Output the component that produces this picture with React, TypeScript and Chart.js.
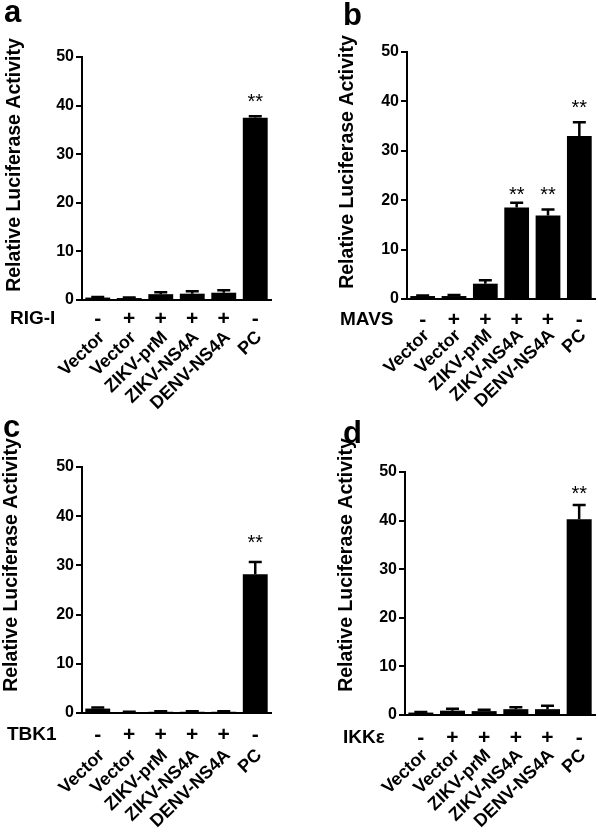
import React, { useEffect, useRef } from 'react';
import { Chart, registerables } from 'chart.js';

Chart.register(...registerables);

const FONT = '"Liberation Sans", Arial, Helvetica, sans-serif';

// ---------- data ----------
const CATEGORIES = ['Vector', 'Vector', 'ZIKV-prM', 'ZIKV-NS4A', 'DENV-NS4A', 'PC'];
const SIGNS = ['-', '+', '+', '+', '+', '-'];
const Y_MIN = 0;
const Y_MAX = 50;
const Y_STEP = 10;
const Y_TITLE = 'Relative Luciferase Activity';
const STAR_LABEL = '**';

const RIGI_MEAN = [0.5, 0.4, 1.2, 1.3, 1.5, 37.5];
const RIGI_SEM = [0.1, 0.1, 0.4, 0.5, 0.5, 0.3];
const RIGI_STARS = [null, null, null, null, null, 41.8];

const MAVS_MEAN = [0.6, 0.6, 3.1, 18.5, 16.9, 33.0];
const MAVS_SEM = [0.1, 0.2, 0.7, 1.0, 1.2, 2.8];
const MAVS_STARS = [null, null, null, 22.2, 22.2, 39.8];

const TBK1_MEAN = [0.9, 0.2, 0.25, 0.25, 0.25, 28.2];
const TBK1_SEM = [0.2, 0.05, 0.1, 0.1, 0.1, 2.5];
const TBK1_STARS = [null, null, null, null, null, 35.6];

const IKKE_MEAN = [0.5, 0.9, 0.8, 1.2, 1.2, 40.3];
const IKKE_SEM = [0.1, 0.4, 0.3, 0.4, 0.7, 2.9];
const IKKE_STARS = [null, null, null, null, null, 46.7];

// ---------- layout (pixels) ----------
type Box = {
  cx: number; cy: number; W: number; H: number;
  left: number; top: number; right: number; bottom: number;
  titleX: number; titleY: number;
  letterX: number; letterY: number;
  geneX: number; rowY: number; labelPad: number;
};

type Spec = {
  letter: string;
  gene: string;
  mean: number[];
  sem: number[];
  stars: (number | null)[];
  box: Box;
};

const SPECS: Spec[] = [
  {
    letter: 'a', gene: 'RIG-I', mean: RIGI_MEAN, sem: RIGI_SEM, stars: RIGI_STARS,
    box: { cx: 0, cy: 0, W: 299, H: 420, left: 82, top: 57, right: 271, bottom: 300,
      titleX: 20, titleY: 165, letterX: 4, letterY: 22, geneX: 10, rowY: 319, labelPad: 27 },
  },
  {
    letter: 'b', gene: 'MAVS', mean: MAVS_MEAN, sem: MAVS_SEM, stars: MAVS_STARS,
    box: { cx: 299, cy: 0, W: 299, H: 420, left: 108, top: 52, right: 296, bottom: 299,
      titleX: 54, titleY: 162, letterX: 44, letterY: 25, geneX: 41, rowY: 320, labelPad: 26 },
  },
  {
    letter: 'c', gene: 'TBK1', mean: TBK1_MEAN, sem: TBK1_SEM, stars: TBK1_STARS,
    box: { cx: 0, cy: 420, W: 299, H: 417, left: 82, top: 47, right: 271, bottom: 293,
      titleX: 17, titleY: 145, letterX: 3, letterY: 17, geneX: 7, rowY: 315, labelPad: 32 },
  },
  {
    letter: 'd', gene: 'IKKε', mean: IKKE_MEAN, sem: IKKE_SEM, stars: IKKE_STARS,
    box: { cx: 299, cy: 420, W: 299, H: 417, left: 106, top: 52, right: 296, bottom: 295,
      titleX: 53, titleY: 145, letterX: 44, letterY: 23, geneX: 44, rowY: 318, labelPad: 30 },
  },
];

function Panel({ spec }: { spec: Spec }) {
  const ref = useRef<HTMLCanvasElement>(null);

  useEffect(() => {
    const canvas = ref.current;
    if (!canvas) return;
    const b = spec.box;

    const overlay = {
      id: 'overlay',
      afterDatasetsDraw(chart: any) {
        const { ctx, scales } = chart;
        const x = scales.x;
        const y = scales.y;
        ctx.save();
        // error bars (upper only)
        ctx.strokeStyle = '#000';
        ctx.lineWidth = 2.5;
        spec.mean.forEach((m, i) => {
          const e = spec.sem[i];
          if (!e) return;
          const px = x.getPixelForValue(i);
          const y0 = y.getPixelForValue(m);
          const y1 = y.getPixelForValue(m + e);
          ctx.beginPath();
          ctx.moveTo(px, y0);
          ctx.lineTo(px, y1);
          ctx.moveTo(px - 6.5, y1);
          ctx.lineTo(px + 6.5, y1);
          ctx.stroke();
        });
        // significance stars
        ctx.fillStyle = '#000';
        ctx.font = `20px ${FONT}`;
        ctx.textAlign = 'center';
        ctx.textBaseline = 'alphabetic';
        spec.stars.forEach((s, i) => {
          if (s == null) return;
          const px = x.getPixelForValue(i);
          const py = y.getPixelForValue(s);
          ctx.fillText(STAR_LABEL, px, py + 11.5);
        });
        ctx.restore();
      },
      afterDraw(chart: any) {
        const { ctx, scales } = chart;
        const x = scales.x;
        ctx.save();
        ctx.fillStyle = '#000';
        // +/- row
        ctx.font = `bold 21px ${FONT}`;
        ctx.textAlign = 'center';
        ctx.textBaseline = 'middle';
        SIGNS.forEach((s, i) => {
          ctx.fillText(s, x.getPixelForValue(i), b.rowY);
        });
        // gene name
        ctx.font = `bold 19px ${FONT}`;
        ctx.textAlign = 'left';
        ctx.fillText(spec.gene, b.geneX, b.rowY);
        // panel letter
        ctx.font = `bold 31px ${FONT}`;
        ctx.textBaseline = 'alphabetic';
        ctx.fillText(spec.letter, b.letterX, b.letterY);
        // y title
        ctx.translate(b.titleX, b.titleY);
        ctx.rotate(-Math.PI / 2);
        ctx.font = `bold 19.5px ${FONT}`;
        ctx.textAlign = 'center';
        ctx.textBaseline = 'alphabetic';
        ctx.fillText(Y_TITLE, 0, 0);
        ctx.restore();
      },
    };

    const chart = new Chart(canvas, {
      type: 'bar',
      data: {
        labels: CATEGORIES,
        datasets: [
          {
            data: spec.mean,
            backgroundColor: '#000',
            borderWidth: 0,
            barPercentage: 0.79,
            categoryPercentage: 1,
          },
        ],
      },
      options: {
        animation: false,
        responsive: false,
        maintainAspectRatio: false,
        devicePixelRatio: 1,
        layout: { padding: { left: 0, top: b.top, right: b.W - b.right, bottom: 0 } },
        plugins: { legend: { display: false }, tooltip: { enabled: false }, title: { display: false } },
        scales: {
          x: {
            type: 'category',
            offset: true,
            grid: { display: false, drawTicks: false },
            border: { display: true, color: '#000', width: 2 },
            ticks: {
              autoSkip: false,
              minRotation: 44,
              maxRotation: 44,
              padding: b.labelPad,
              labelOffset: 4,
              color: '#000',
              font: { family: FONT, size: 18, weight: 'bold' },
            },
            afterFit: (s: any) => {
              s.height = b.H - b.bottom;
              s.paddingLeft = 0;
              s.paddingRight = 0;
            },
          },
          y: {
            min: Y_MIN,
            max: Y_MAX,
            grid: { display: true, drawOnChartArea: false, drawTicks: true, tickLength: 6, color: '#000', lineWidth: 2 },
            border: { display: true, color: '#000', width: 2 },
            ticks: {
              stepSize: Y_STEP,
              padding: 2,
              color: '#000',
              font: { family: FONT, size: 16, weight: 'bold' },
            },
            afterFit: (s: any) => {
              s.width = b.left;
            },
          },
        },
      },
      plugins: [overlay],
    } as any);

    return () => chart.destroy();
  }, [spec]);

  const b = spec.box;
  return (
    <canvas
      ref={ref}
      width={b.W}
      height={b.H}
      style={{ position: 'absolute', left: b.cx, top: b.cy, width: b.W, height: b.H }}
    />
  );
}

export default function App() {
  return (
    <div style={{ position: 'absolute', left: 0, top: 0, width: 598, height: 837, background: '#fff' }}>
      {SPECS.map((s) => (
        <Panel key={s.letter} spec={s} />
      ))}
    </div>
  );
}
